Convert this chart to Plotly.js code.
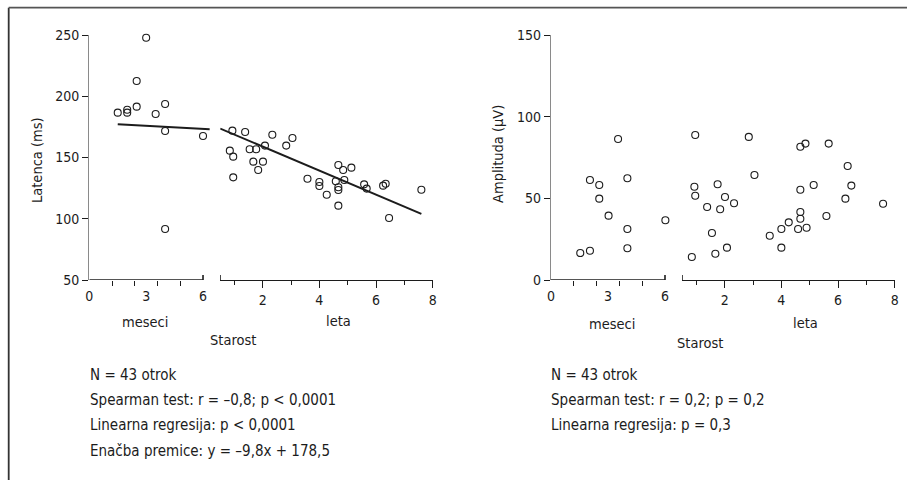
<!DOCTYPE html>
<html>
<head>
<meta charset="utf-8">
<script src="https://cdn.plot.ly/plotly-3.0.1.min.js"></script>
<style>
  html, body { margin: 0; padding: 0; background: #fff; }
  #chart { width: 907px; height: 480px; }
</style>
</head>
<body>
<div id="chart"></div>
<script>
// Latency (ms) vs age: infants in months, children in years
const latMonthsAge = [1.5, 2.0, 2.0, 2.5, 2.5, 3.0, 3.5, 4.0, 4.0, 4.0, 6.0];
const latMonthsVal = [186.6, 189.0, 186.6, 212.4, 191.5, 247.8, 185.5, 193.7, 171.6, 91.6, 167.6];

const latYearsAge = [0.93, 0.84, 0.96, 0.96, 1.38, 1.54, 1.77, 1.67, 1.84, 2.01, 2.08, 2.34, 2.83, 3.05, 3.58, 4.0,
                     4.0, 4.26, 4.58, 4.67, 4.67, 4.67, 4.67, 4.84, 4.88, 5.13, 5.58, 5.67, 6.25, 6.34, 6.46, 7.60];
const latYearsVal = [171.9, 155.6, 150.7, 133.8, 170.8, 156.7, 156.7, 146.6, 139.8, 146.6, 159.7, 168.6, 159.7, 165.9, 132.7, 130.0,
                     126.7, 119.6, 130.6, 143.9, 125.7, 123.5, 110.7, 139.8, 131.6, 141.7, 128.1, 124.6, 127.0, 128.6, 100.6, 123.7];

// Amplitude (µV) vs age
const ampMonthsAge = [1.54, 2.05, 2.05, 2.54, 2.54, 3.03, 3.53, 4.02, 4.02, 4.02, 6.02];
const ampMonthsVal = [16.5, 17.9, 61.2, 58.2, 49.8, 39.4, 86.3, 62.3, 31.2, 19.4, 36.6];

const ampYearsAge = [0.84, 0.93, 0.96, 0.96, 1.38, 1.55, 1.67, 1.75, 1.84, 2.01, 2.08, 2.33, 2.85, 3.05, 3.59, 4.0,
                     4.0, 4.26, 4.59, 4.67, 4.67, 4.67, 4.67, 4.85, 4.89, 5.14, 5.59, 5.67, 6.26, 6.34, 6.47, 7.59];
const ampYearsVal = [14.1, 57.1, 51.6, 88.8, 44.7, 28.8, 16.1, 58.6, 43.3, 50.8, 19.8, 47.0, 87.6, 64.3, 27.1, 31.2,
                     19.8, 35.3, 31.2, 81.6, 55.3, 41.6, 37.5, 83.5, 32.0, 58.2, 39.2, 83.5, 49.8, 69.8, 57.8, 46.7];

// Regression line for the children (years): y = -9.8x + 178.5
const regSlope = -9.8;
const regIntercept = 178.5;
const regYearSpan = [0.5, 7.6];
// Trend line for the infants (months)
const monthTrendAge = [1.5, 6.35];
const monthTrendVal = [177.1, 173.0];

// Tick labels
const monthTickVals = [0, 3, 6];
const monthMinorTicks = [1.2, 2.4, 3.6, 4.8];
const yearTickVals = [2, 4, 6, 8];
const yearMinorTicks = [1, 3, 5, 7];
const latTickVals = [50, 100, 150, 200, 250];
const ampTickVals = [0, 50, 100, 150];

// Text blocks
const latStats = ['N = 43 otrok', 'Spearman test: r = \u20130,8; p < 0,0001',
                  'Linearna regresija: p < 0,0001', 'Ena\u010Dba premice: y = \u20139,8x + 178,5'];
const ampStats = ['N = 43 otrok', 'Spearman test: r = 0,2; p = 0,2', 'Linearna regresija: p = 0,3'];

const FONT = '"DejaVu Sans Condensed", "Liberation Sans Narrow", sans-serif';
const INK = '#1c1c1c';
const W = 907, H = 480;
const px = v => v / W;
const py = v => 1 - v / H;

const marker = { symbol: 'circle-open', size: 7, color: INK, line: { width: 1.1, color: INK } };

const traces = [
  { x: latMonthsAge, y: latMonthsVal, xaxis: 'x', yaxis: 'y', mode: 'markers', marker, type: 'scatter', cliponaxis: false },
  { x: latYearsAge, y: latYearsVal, xaxis: 'x2', yaxis: 'y', mode: 'markers', marker, type: 'scatter', cliponaxis: false },
  { x: monthTrendAge, y: monthTrendVal, xaxis: 'x', yaxis: 'y', mode: 'lines', line: { color: INK, width: 2 }, type: 'scatter' },
  { x: regYearSpan, y: regYearSpan.map(a => regSlope * a + regIntercept), xaxis: 'x2', yaxis: 'y',
    mode: 'lines', line: { color: INK, width: 2 }, type: 'scatter' },
  { x: ampMonthsAge, y: ampMonthsVal, xaxis: 'x3', yaxis: 'y2', mode: 'markers', marker, type: 'scatter', cliponaxis: false },
  { x: ampYearsAge, y: ampYearsVal, xaxis: 'x4', yaxis: 'y2', mode: 'markers', marker, type: 'scatter', cliponaxis: false }
];

const tickFont = { family: FONT, size: 14, color: INK };

function monthAxis(domain, anchor) {
  return {
    domain, anchor, range: [0, 6.4], showline: false, zeroline: false, showgrid: false,
    tickmode: 'array', tickvals: monthTickVals, ticktext: monthTickVals.map(String), ticks: '',
    ticklabelstandoff: 6,
    minor: { tickmode: 'array', tickvals: monthMinorTicks, ticks: 'outside', ticklen: 5, tickwidth: 1, tickcolor: INK, showgrid: false },
    tickfont: tickFont, fixedrange: true
  };
}
function yearAxis(domain, anchor) {
  return {
    domain, anchor, range: [0.5, 8], showline: true, linecolor: INK, linewidth: 1.3, zeroline: false, showgrid: false,
    tickmode: 'array', tickvals: yearTickVals, ticktext: yearTickVals.map(String),
    ticks: 'outside', ticklen: 7, tickwidth: 1, tickcolor: INK, ticklabelstandoff: 0,
    minor: { tickmode: 'array', tickvals: yearMinorTicks, ticks: 'outside', ticklen: 4, tickwidth: 1, tickcolor: INK, showgrid: false },
    tickfont: tickFont, fixedrange: true
  };
}
function valueAxis(range, tickvals, anchor) {
  return {
    domain: [py(280), py(35)], anchor, range, showline: true, linecolor: '#8a8a8a', linewidth: 1.2,
    zeroline: false, showgrid: false, tickmode: 'array', tickvals, ticks: 'outside', ticklen: 6,
    tickwidth: 1, tickcolor: INK, tickfont: tickFont, fixedrange: true
  };
}

const shapes = [
  // page frame
  { type: 'line', xref: 'paper', yref: 'paper', x0: px(8.7), x1: px(8.7), y0: py(7.7), y1: 0, line: { color: '#333', width: 1.8 } },
  { type: 'line', xref: 'paper', yref: 'paper', x0: px(8.7), x1: 1, y0: py(7.7), y1: py(7.7), line: { color: '#555', width: 1.8 } },
  // month axis lines (end at 6)
  { type: 'line', xref: 'x', yref: 'y', x0: 0, x1: 6, y0: 50, y1: 50, line: { color: INK, width: 1.3 } },
  { type: 'line', xref: 'x3', yref: 'y2', x0: 0, x1: 6, y0: 0, y1: 0, line: { color: INK, width: 1.3 } },
];
// axis break marks
[['x', 'y', 6, 50], ['x2', 'y', 0.5, 50], ['x3', 'y2', 6, 0], ['x4', 'y2', 0.5, 0]].forEach(([xr, yr, xv, yv]) => {
  shapes.push({ type: 'line', xref: xr, yref: yr, x0: xv, x1: xv, ysizemode: 'pixel', yanchor: yv, y0: -5, y1: 5,
                line: { color: INK, width: 1.6 } });
});

const annotations = [];
function label(text, x, y, size, extra) {
  annotations.push(Object.assign({ text, xref: 'paper', yref: 'paper', x: px(x), y: py(y), showarrow: false,
    xanchor: 'center', yanchor: 'middle', font: { family: FONT, size, color: INK } }, extra || {}));
}
label('meseci', 145, 322, 14.5);
label('leta', 338, 321, 14.5);
label('Starost', 233, 340, 14.5);
label('meseci', 611.5, 324, 14.5);
label('leta', 805, 323, 14.5);
label('Starost', 700, 343, 14.5);
label('Latenca (ms)', 37, 160, 14.5, { textangle: -90 });
label('Amplituda (\u00B5V)', 498, 154, 14.5, { textangle: -90 });
const statRows = [374.5, 399.5, 425, 451];
latStats.forEach((t, i) => label(t, 88, statRows[i], 15, { xanchor: 'left' }));
ampStats.forEach((t, i) => label(t, 549, statRows[i], 15, { xanchor: 'left' }));

const layout = {
  width: W, height: H,
  margin: { l: 0, r: 0, t: 0, b: 0 },
  paper_bgcolor: '#fff', plot_bgcolor: 'rgba(0,0,0,0)',
  showlegend: false,
  font: { family: FONT, color: INK },
  xaxis: monthAxis([px(89.3), px(210.6)], 'y'),
  xaxis2: yearAxis([px(220.2), px(432.7)], 'y'),
  xaxis3: monthAxis([px(551), px(672.6)], 'y2'),
  xaxis4: yearAxis([px(682.2), px(894.7)], 'y2'),
  yaxis: valueAxis([50, 250], latTickVals, 'x'),
  yaxis2: valueAxis([0, 150], ampTickVals, 'x3'),
  shapes, annotations
};

Plotly.newPlot('chart', traces, layout, { staticPlot: true, displayModeBar: false });
</script>
</body>
</html>
